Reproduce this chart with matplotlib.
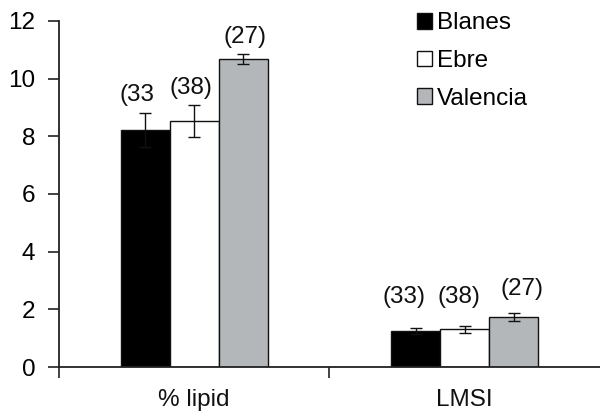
import matplotlib
matplotlib.use("Agg")
import matplotlib.pyplot as plt
import numpy as np

plt.rcParams['font.family'] = ['Liberation Sans', 'DejaVu Sans']

categories = ["% lipid", "LMSI"]
series = ["Blanes", "Ebre", "Valencia"]
values = {
    "Blanes":   [8.22, 1.26],
    "Ebre":     [8.53, 1.31],
    "Valencia": [10.67, 1.72],
}
errors = {
    "Blanes":   [0.59, 0.10],
    "Ebre":     [0.55, 0.12],
    "Valencia": [0.17, 0.14],
}
n_labels = {
    "Blanes":   ["(33", "(33)"],
    "Ebre":     ["(38)", "(38)"],
    "Valencia": ["(27)", "(27)"],
}
yticks = [0, 2, 4, 6, 8, 10, 12]

colors = {"Blanes": "#000000", "Ebre": "#ffffff", "Valencia": "#b4b7ba"}

FS = 17.5
fig = plt.figure(figsize=(6.0, 4.19), dpi=100)
ax = fig.add_axes([0.0983, 0.124, 0.9017, 0.826])

x = np.arange(len(categories))
w = 0.181
offsets = [-w, 0.0, w]
label_dx = {"Blanes": [-0.03, -0.045], "Ebre": [-0.012, -0.02], "Valencia": [0.005, 0.03]}
label_y = {"Blanes": [9.43, 2.43], "Ebre": [9.68, 2.43], "Valencia": [11.45, 2.72]}

for s, off in zip(series, offsets):
    ax.bar(x + off, values[s], width=w, color=colors[s], edgecolor="#111111",
           linewidth=1.0, label=s, zorder=2)
    ax.errorbar(x + off, values[s], yerr=errors[s], fmt="none", ecolor="#111111",
                elinewidth=1.0, capsize=4, capthick=1.0, zorder=3)
    for i in range(len(categories)):
        ax.text(x[i] + off + label_dx[s][i], label_y[s][i], n_labels[s][i],
                ha="center", va="center", fontsize=FS, color="#111111")

ax.set_xlim(-0.5, 1.5)
ax.set_ylim(0, 12)
ax.set_yticks(yticks)
ax.set_yticklabels([str(t) for t in yticks], fontsize=FS)
ax.set_xticks([-0.5, 0.5])
ax.set_xticklabels([])
ax.tick_params(axis="both", direction="out", length=8, width=1.2, color="#222222")
ax.tick_params(axis="y", pad=9)
for i, c in enumerate(categories):
    ax.text(x[i], -0.75, c, ha="center", va="top", fontsize=FS, color="#111111")

for sp in ["top", "right"]:
    ax.spines[sp].set_visible(False)
for sp in ["left", "bottom"]:
    ax.spines[sp].set_linewidth(1.3)
    ax.spines[sp].set_color("#222222")
ax.spines["left"].set_bounds(0, 12)

leg = ax.legend(loc="upper left", bbox_to_anchor=(0.6435, 1.053), frameon=False,
                fontsize=FS, handlelength=0.62, handleheight=0.62,
                handletextpad=0.2, labelspacing=0.65, borderaxespad=0)

fig.savefig("out.png", dpi=100)
